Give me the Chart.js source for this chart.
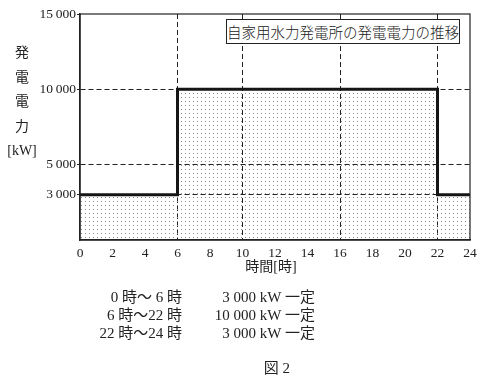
<!DOCTYPE html>
<html>
<head>
<meta charset="utf-8">
<script src="https://cdn.jsdelivr.net/npm/chart.js@4/dist/chart.umd.min.js"></script>
<style>
  html, body { margin: 0; padding: 0; background: #fff; }
  #wrap { position: relative; width: 483px; height: 386px; overflow: hidden; }
  canvas { position: absolute; left: 0; top: 0; }
  .t { position: absolute; color: #222; font-family: "Liberation Serif", "Noto Sans CJK JP", serif; white-space: pre; }
  #box { left: 226px; top: 19px; width: 232px; height: 23px; border: 1px solid #222; background: #fff;
         font-family: "Noto Sans CJK JP", sans-serif; font-size: 14.5px; font-weight: 300; line-height: 23px; text-align: center; }
  #ytitle { left: 2px; top: 41px; width: 40px; font-size: 14px; line-height: 24.5px; text-align: center; }
  #xtitle { left: 221px; top: 258px; width: 100px; font-size: 14px; line-height: 18px; text-align: center; }
  .c1 { right: 301px; font-size: 15px; line-height: 18px; text-align: right; }
  .c2 { right: 168px; font-size: 15px; line-height: 18px; text-align: right; }
  #fig { left: 227px; top: 359px; width: 100px; font-size: 15px; line-height: 18px; text-align: center; }
</style>
</head>
<body>
<div id="wrap">
  <canvas id="c" width="483" height="386"></canvas>
  <div class="t" id="box">自家用水力発電所の発電電力の推移</div>
  <div class="t" id="ytitle">発<br>電<br>電<br>力<br>[kW]</div>
  <div class="t" id="xtitle">時間[時]</div>
  <div class="t c1" style="top:288px">0 時～ 6 時</div>
  <div class="t c1" style="top:306px">6 時～22 時</div>
  <div class="t c1" style="top:324px">22 時～24 時</div>
  <div class="t c2" style="top:288px">3 000 kW 一定</div>
  <div class="t c2" style="top:306px">10 000 kW 一定</div>
  <div class="t c2" style="top:324px">3 000 kW 一定</div>
  <div class="t" id="fig">図 2</div>
</div>
<script>
// Data
const hours = [0, 6, 22, 24];
const power = [3000, 10000, 3000, 3000];
const yTickValues = [3000, 5000, 10000, 15000];
const yGridValues = [3000, 5000, 10000];
const xGridValues = [6, 10, 16, 22];

function fmt(v) {
  const s = String(v);
  if (s.length > 3) return s.slice(0, s.length - 3) + '\u2009' + s.slice(-3);
  return s;
}

// dotted fill pattern
const pc = document.createElement('canvas');
pc.width = 4; pc.height = 4;
const pctx = pc.getContext('2d');
pctx.fillStyle = '#888';
pctx.fillRect(1, 1, 1, 1);
const pattern = document.getElementById('c').getContext('2d').createPattern(pc, 'repeat');

const frame = {
  id: 'frame',
  afterDraw(chart) {
    const a = chart.chartArea, ctx = chart.ctx;
    ctx.save();
    ctx.strokeStyle = '#222';
    ctx.lineWidth = 1.2;
    ctx.setLineDash([]);
    ctx.strokeRect(a.left, a.top, a.right - a.left, a.bottom - a.top);
    ctx.restore();
  }
};

const tickFont = { family: '"Liberation Serif", serif', size: 13.5 };

new Chart(document.getElementById('c'), {
  type: 'line',
  data: {
    datasets: [{
      data: hours.map((h, i) => ({ x: h, y: power[i] })),
      stepped: true,
      borderColor: '#151515',
      borderWidth: 3,
      pointRadius: 0,
      fill: 'origin',
      backgroundColor: pattern
    }]
  },
  options: {
    responsive: false,
    animation: false,
    devicePixelRatio: 1,
    layout: { padding: { left: 0, top: 14, right: 13, bottom: 0 } },
    plugins: { legend: { display: false }, tooltip: { enabled: false } },
    scales: {
      x: {
        type: 'linear', min: 0, max: 24,
        afterFit(s) { s.height = 146; },
        ticks: { stepSize: 2, color: '#222', font: tickFont, padding: 5, maxRotation: 0 },
        grid: {
          drawTicks: false,
          lineWidth: 1,
          color: (c) => (c.tick && xGridValues.includes(c.tick.value)) ? '#222' : 'rgba(0,0,0,0)'
        },
        border: { color: '#222', width: 1.5, dash: [5, 3] }
      },
      y: {
        type: 'linear', min: 0, max: 15000,
        afterFit(s) { s.width = 80; },
        afterBuildTicks(s) { s.ticks = yTickValues.map(v => ({ value: v })); },
        ticks: { color: '#222', font: tickFont, padding: 1, callback: (v) => fmt(v) },
        grid: {
          tickLength: 3,
          tickColor: '#222',
          lineWidth: 1,
          color: (c) => (c.tick && yGridValues.includes(c.tick.value)) ? '#222' : 'rgba(0,0,0,0)'
        },
        border: { color: '#222', width: 1.5, dash: [5, 3] }
      }
    }
  },
  plugins: [frame]
});
</script>
</body>
</html>
